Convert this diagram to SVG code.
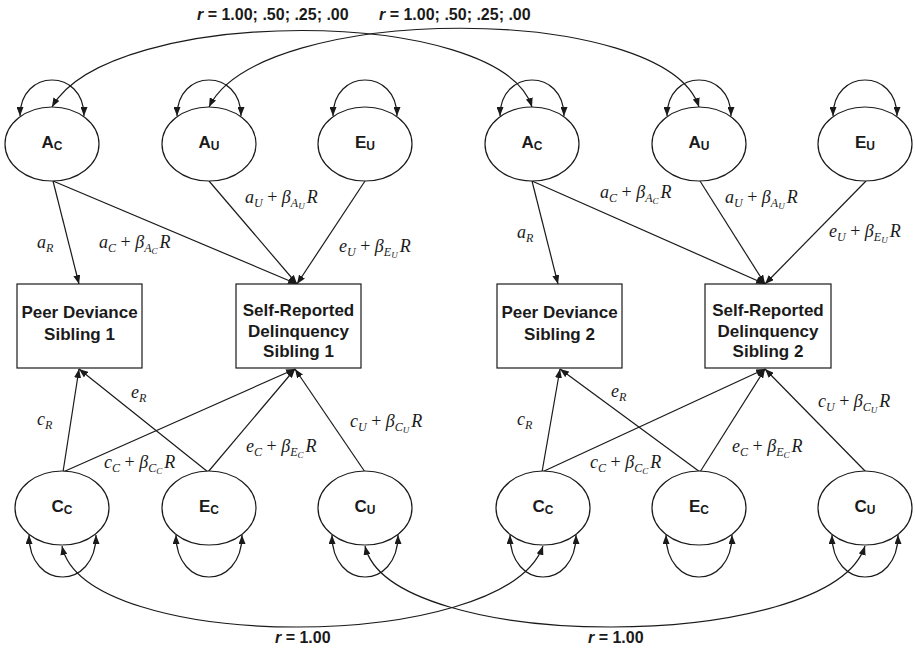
<svg xmlns="http://www.w3.org/2000/svg" width="915" height="649" viewBox="0 0 915 649">
<style>
.n{fill:#fff;stroke:#1a1a1a;stroke-width:1.2}
.c{fill:none;stroke:#1a1a1a;stroke-width:1.2}
.lbl{font-family:"Liberation Sans",Arial,sans-serif;font-weight:bold;font-size:17px;text-anchor:middle;fill:#1a1a1a}
.sub{font-size:12px}
.bx{font-family:"Liberation Sans",Arial,sans-serif;font-weight:bold;font-size:17px;text-anchor:middle;fill:#1a1a1a}
.r{font-family:"Liberation Sans",Arial,sans-serif;font-weight:bold;font-size:16px;fill:#1a1a1a}
.it{font-style:italic}
.m{font-family:"Liberation Serif","Times New Roman",serif;font-style:italic;font-size:18px;fill:#1a1a1a}
.up{font-style:normal}
.s{font-size:12px}
.ss{font-size:9px}
</style>
<defs>
<marker id="ah" markerUnits="userSpaceOnUse" markerWidth="9" markerHeight="7" refX="9" refY="3.5" orient="auto-start-reverse"><path d="M0,0 L9,3.5 L0,7 z" fill="#1a1a1a"/></marker>
</defs>
<rect width="915" height="649" fill="#fff"/>

<g id="connectors">
<!-- top long covariances -->
<path class="c" d="M52,107 C110,5 500,5 532,107" marker-start="url(#ah)" marker-end="url(#ah)"/>
<path class="c" d="M209,107 C260,2 665,2 699,107" marker-start="url(#ah)" marker-end="url(#ah)"/>
<!-- bottom long covariances -->
<path class="c" d="M62,546 C85,654 505,654 543,546" marker-start="url(#ah)" marker-end="url(#ah)"/>
<path class="c" d="M365,546 C390,654 830,654 865,546" marker-start="url(#ah)" marker-end="url(#ah)"/>
<!-- top self loops -->
<path class="c" d="M20,116 C20,68 84,68 84,116" marker-start="url(#ah)" marker-end="url(#ah)"/>
<path class="c" d="M177,116 C177,68 241,68 241,116" marker-start="url(#ah)" marker-end="url(#ah)"/>
<path class="c" d="M333,116 C333,68 397,68 397,116" marker-start="url(#ah)" marker-end="url(#ah)"/>
<path class="c" d="M500,116 C500,68 564,68 564,116" marker-start="url(#ah)" marker-end="url(#ah)"/>
<path class="c" d="M667,116 C667,68 731,68 731,116" marker-start="url(#ah)" marker-end="url(#ah)"/>
<path class="c" d="M833,116 C833,68 897,68 897,116" marker-start="url(#ah)" marker-end="url(#ah)"/>
<!-- bottom self loops -->
<path class="c" d="M29,535 C29,591 96,591 96,535" marker-start="url(#ah)" marker-end="url(#ah)"/>
<path class="c" d="M176,535 C176,591 242,591 242,535" marker-start="url(#ah)" marker-end="url(#ah)"/>
<path class="c" d="M332,535 C332,591 398,591 398,535" marker-start="url(#ah)" marker-end="url(#ah)"/>
<path class="c" d="M510,535 C510,591 576,591 576,535" marker-start="url(#ah)" marker-end="url(#ah)"/>
<path class="c" d="M666,535 C666,591 732,591 732,535" marker-start="url(#ah)" marker-end="url(#ah)"/>
<path class="c" d="M832,535 C832,591 898,591 898,535" marker-start="url(#ah)" marker-end="url(#ah)"/>
<!-- top paths sibling 1 -->
<path class="c" d="M53,181 L79,284" marker-end="url(#ah)"/>
<path class="c" d="M53,181 L297,284" marker-end="url(#ah)"/>
<path class="c" d="M209,181 L297,284" marker-end="url(#ah)"/>
<path class="c" d="M365,181 L297,284" marker-end="url(#ah)"/>
<!-- top paths sibling 2 -->
<path class="c" d="M532,181 L558,284" marker-end="url(#ah)"/>
<path class="c" d="M532,181 L765,284" marker-end="url(#ah)"/>
<path class="c" d="M700,181 L765,284" marker-end="url(#ah)"/>
<path class="c" d="M866,181 L765,284" marker-end="url(#ah)"/>
<!-- bottom paths sibling 1 -->
<path class="c" d="M63,472 L79,369" marker-end="url(#ah)"/>
<path class="c" d="M63,472 L295,369" marker-end="url(#ah)"/>
<path class="c" d="M208,472 L79,369" marker-end="url(#ah)"/>
<path class="c" d="M208,472 L295,369" marker-end="url(#ah)"/>
<path class="c" d="M365,472 L295,369" marker-end="url(#ah)"/>
<!-- bottom paths sibling 2 -->
<path class="c" d="M542,472 L560,369" marker-end="url(#ah)"/>
<path class="c" d="M542,472 L765,369" marker-end="url(#ah)"/>
<path class="c" d="M700,472 L560,369" marker-end="url(#ah)"/>
<path class="c" d="M700,472 L765,369" marker-end="url(#ah)"/>
<path class="c" d="M866,472 L765,369" marker-end="url(#ah)"/>
</g>

<g id="AC1"><ellipse class="n" cx="52" cy="144" rx="47" ry="37"/><text class="lbl" x="52" y="148">A<tspan class="sub" dy="2">C</tspan></text></g>
<g id="AU1"><ellipse class="n" cx="209" cy="144" rx="47" ry="37"/><text class="lbl" x="209" y="148">A<tspan class="sub" dy="2">U</tspan></text></g>
<g id="EU1"><ellipse class="n" cx="365" cy="144" rx="47" ry="37"/><text class="lbl" x="365" y="148">E<tspan class="sub" dy="2">U</tspan></text></g>
<g id="AC2"><ellipse class="n" cx="532" cy="144" rx="47" ry="37"/><text class="lbl" x="532" y="148">A<tspan class="sub" dy="2">C</tspan></text></g>
<g id="AU2"><ellipse class="n" cx="699" cy="144" rx="47" ry="37"/><text class="lbl" x="699" y="148">A<tspan class="sub" dy="2">U</tspan></text></g>
<g id="EU2"><ellipse class="n" cx="865" cy="144" rx="47" ry="37"/><text class="lbl" x="865" y="148">E<tspan class="sub" dy="2">U</tspan></text></g>

<g id="CC1"><ellipse class="n" cx="62" cy="508" rx="47" ry="37"/><text class="lbl" x="62" y="512">C<tspan class="sub" dy="2">C</tspan></text></g>
<g id="EC1"><ellipse class="n" cx="209" cy="508" rx="47" ry="37"/><text class="lbl" x="209" y="512">E<tspan class="sub" dy="2">C</tspan></text></g>
<g id="CU1"><ellipse class="n" cx="365" cy="508" rx="47" ry="37"/><text class="lbl" x="365" y="512">C<tspan class="sub" dy="2">U</tspan></text></g>
<g id="CC2"><ellipse class="n" cx="543" cy="508" rx="47" ry="37"/><text class="lbl" x="543" y="512">C<tspan class="sub" dy="2">C</tspan></text></g>
<g id="EC2"><ellipse class="n" cx="699" cy="508" rx="47" ry="37"/><text class="lbl" x="699" y="512">E<tspan class="sub" dy="2">C</tspan></text></g>
<g id="CU2"><ellipse class="n" cx="865" cy="508" rx="47" ry="37"/><text class="lbl" x="865" y="512">C<tspan class="sub" dy="2">U</tspan></text></g>

<g id="PD1"><rect class="n" x="17" y="284" width="125" height="84"/><text class="bx" x="79.5" y="318">Peer Deviance</text><text class="bx" x="79.5" y="340">Sibling 1</text></g>
<g id="SR1"><rect class="n" x="236" y="284" width="125" height="84"/><text class="bx" x="298.5" y="316">Self-Reported</text><text class="bx" x="298.5" y="337">Delinquency</text><text class="bx" x="298.5" y="357">Sibling 1</text></g>
<g id="PD2"><rect class="n" x="497" y="284" width="125" height="84"/><text class="bx" x="559.5" y="318">Peer Deviance</text><text class="bx" x="559.5" y="340">Sibling 2</text></g>
<g id="SR2"><rect class="n" x="705" y="284" width="126" height="84"/><text class="bx" x="768" y="316">Self-Reported</text><text class="bx" x="768" y="337">Delinquency</text><text class="bx" x="768" y="357">Sibling 2</text></g>

<g id="labels">
<text class="r" x="197" y="20"><tspan class="it">r</tspan> = 1.00; .50; .25; .00</text>
<text class="r" x="379" y="20"><tspan class="it">r</tspan> = 1.00; .50; .25; .00</text>
<text class="r" x="275" y="643"><tspan class="it">r</tspan> = 1.00</text>
<text class="r" x="588" y="643"><tspan class="it">r</tspan> = 1.00</text>

<text class="m" x="37" y="248">a<tspan class="s" dy="4">R</tspan></text>
<text class="m" x="99" y="248">a<tspan class="s" dy="4">C</tspan><tspan class="up" dy="-4"> + </tspan>β<tspan class="s" dy="4">A</tspan><tspan class="ss" dy="2">C</tspan><tspan dx="2" dy="-6">R</tspan></text>
<text class="m" x="245" y="203">a<tspan class="s" dy="4">U</tspan><tspan class="up" dy="-4"> + </tspan>β<tspan class="s" dy="4">A</tspan><tspan class="ss" dy="2">U</tspan><tspan dx="2" dy="-6">R</tspan></text>
<text class="m" x="339" y="252">e<tspan class="s" dy="4">U</tspan><tspan class="up" dy="-4"> + </tspan>β<tspan class="s" dy="4">E</tspan><tspan class="ss" dy="2">U</tspan><tspan dx="2" dy="-6">R</tspan></text>
<text class="m" x="131" y="398">e<tspan class="s" dy="4">R</tspan></text>
<text class="m" x="37" y="425">c<tspan class="s" dy="4">R</tspan></text>
<text class="m" x="350" y="427">c<tspan class="s" dy="4">U</tspan><tspan class="up" dy="-4"> + </tspan>β<tspan class="s" dy="4">C</tspan><tspan class="ss" dy="2">U</tspan><tspan dx="2" dy="-6">R</tspan></text>
<text class="m" x="246" y="452">e<tspan class="s" dy="4">C</tspan><tspan class="up" dy="-4"> + </tspan>β<tspan class="s" dy="4">E</tspan><tspan class="ss" dy="2">C</tspan><tspan dx="2" dy="-6">R</tspan></text>
<text class="m" x="104" y="468">c<tspan class="s" dy="4">C</tspan><tspan class="up" dy="-4"> + </tspan>β<tspan class="s" dy="4">C</tspan><tspan class="ss" dy="2">C</tspan><tspan dx="2" dy="-6">R</tspan></text>

<text class="m" x="517" y="238">a<tspan class="s" dy="4">R</tspan></text>
<text class="m" x="600" y="198">a<tspan class="s" dy="4">C</tspan><tspan class="up" dy="-4"> + </tspan>β<tspan class="s" dy="4">A</tspan><tspan class="ss" dy="2">C</tspan><tspan dx="2" dy="-6">R</tspan></text>
<text class="m" x="725" y="203">a<tspan class="s" dy="4">U</tspan><tspan class="up" dy="-4"> + </tspan>β<tspan class="s" dy="4">A</tspan><tspan class="ss" dy="2">U</tspan><tspan dx="2" dy="-6">R</tspan></text>
<text class="m" x="829" y="237">e<tspan class="s" dy="4">U</tspan><tspan class="up" dy="-4"> + </tspan>β<tspan class="s" dy="4">E</tspan><tspan class="ss" dy="2">U</tspan><tspan dx="2" dy="-6">R</tspan></text>
<text class="m" x="611" y="397">e<tspan class="s" dy="4">R</tspan></text>
<text class="m" x="517" y="425">c<tspan class="s" dy="4">R</tspan></text>
<text class="m" x="818" y="407">c<tspan class="s" dy="4">U</tspan><tspan class="up" dy="-4"> + </tspan>β<tspan class="s" dy="4">C</tspan><tspan class="ss" dy="2">U</tspan><tspan dx="2" dy="-6">R</tspan></text>
<text class="m" x="732" y="452">e<tspan class="s" dy="4">C</tspan><tspan class="up" dy="-4"> + </tspan>β<tspan class="s" dy="4">E</tspan><tspan class="ss" dy="2">C</tspan><tspan dx="2" dy="-6">R</tspan></text>
<text class="m" x="590" y="468">c<tspan class="s" dy="4">C</tspan><tspan class="up" dy="-4"> + </tspan>β<tspan class="s" dy="4">C</tspan><tspan class="ss" dy="2">C</tspan><tspan dx="2" dy="-6">R</tspan></text>
</g>
</svg>
